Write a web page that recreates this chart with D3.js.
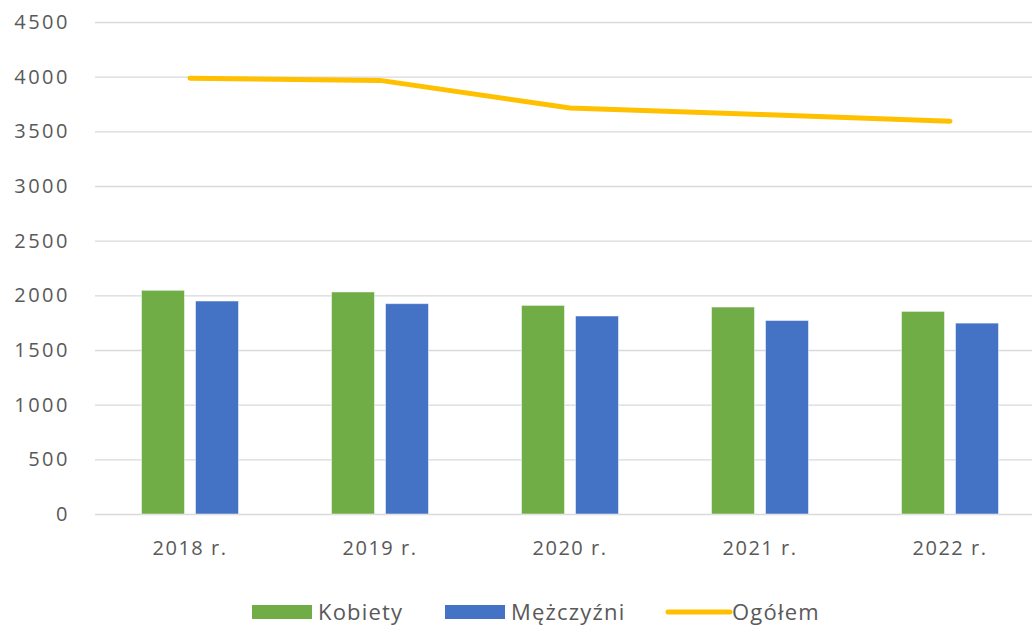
<!DOCTYPE html>
<html>
<head>
<meta charset="utf-8">
<script src="https://cdn.jsdelivr.net/npm/d3@7"></script>
<style>
  html, body { margin: 0; padding: 0; background: #fff; }
  svg text { font-family: 'Open Sans', 'Noto Sans', sans-serif; fill: #595959; }
</style>
</head>
<body>
<div id="chart"></div>
<script>
const years = ['2018 r.', '2019 r.', '2020 r.', '2021 r.', '2022 r.'];
const kobiety = [2046, 2031, 1908, 1893, 1853];
const mezczyzni = [1948, 1924, 1811, 1770, 1746];
const ogolem = [3985, 3966, 3714, 3655, 3592];
const yTicks = [0, 500, 1000, 1500, 2000, 2500, 3000, 3500, 4000, 4500];

const W = 1032, H = 626;
const m = { top: 22, right: -13, bottom: 112, left: 95 };

const svg = d3.select('#chart').append('svg').attr('width', W).attr('height', H);

const x = d3.scaleBand().domain(years).range([m.left, W - m.right]);
const y = d3.scaleLinear().domain([0, 4500]).range([H - m.bottom, m.top]);

// grid + y labels
const yAxis = d3.axisLeft(y).tickValues(yTicks).tickFormat(d3.format('d'))
  .tickSize(-(W - m.left)).tickPadding(25);
const gy = svg.append('g').attr('transform', `translate(${m.left},0)`).call(yAxis);
gy.select('.domain').remove();
gy.selectAll('.tick line').attr('stroke', '#d9d9d9').attr('stroke-width', 1.3);
gy.selectAll('.tick text').attr('font-size', 20).attr('fill', '#595959').style('letter-spacing', '2.5px');

// x labels
const xAxis = d3.axisBottom(x).tickSize(0).tickPadding(27);
const gx = svg.append('g').attr('transform', `translate(0,${y(0)})`).call(xAxis);
gx.select('.domain').remove();
gx.selectAll('.tick text').attr('font-size', 20).attr('fill', '#595959').style('letter-spacing', '1.5px');

// bars
const barW = 43, gap = 11;
const groups = [
  { name: 'Kobiety', values: kobiety, color: '#70AD47', dx: -barW - gap / 2 },
  { name: 'Mężczyźni', values: mezczyzni, color: '#4472C4', dx: gap / 2 },
];
groups.forEach(s => {
  svg.append('g').selectAll('rect').data(s.values).join('rect')
    .attr('x', (d, i) => x(years[i]) + x.bandwidth() / 2 + s.dx)
    .attr('y', d => y(d))
    .attr('width', barW)
    .attr('height', d => y(0) - y(d))
    .attr('fill', s.color)
    .attr('stroke', 'rgba(255,255,255,0.5)')
    .attr('stroke-width', 1);
});

// total line
const line = d3.line().x((d, i) => x(years[i]) + x.bandwidth() / 2).y(d => y(d));
svg.append('path').datum(ogolem).attr('d', line)
  .attr('fill', 'none').attr('stroke', '#FFC000').attr('stroke-width', 5)
  .attr('stroke-linecap', 'round').attr('stroke-linejoin', 'round');

// legend
const ly = 612;
const legend = svg.append('g');
const items = [
  { name: 'Kobiety', color: '#70AD47', type: 'rect', x: 252 },
  { name: 'Mężczyźni', color: '#4472C4', type: 'rect', x: 445 },
  { name: 'Ogółem', color: '#FFC000', type: 'line', x: 666 },
];
items.forEach(it => {
  if (it.type === 'rect') {
    legend.append('rect').attr('x', it.x).attr('y', ly - 7).attr('width', 60).attr('height', 14).attr('fill', it.color);
  } else {
    legend.append('line').attr('x1', it.x + 2).attr('x2', it.x + 64).attr('y1', ly).attr('y2', ly)
      .attr('stroke', it.color).attr('stroke-width', 5).attr('stroke-linecap', 'round');
  }
  legend.append('text').attr('x', it.x + 66).attr('y', ly).attr('dy', '0.35em')
    .attr('font-size', 22).attr('fill', '#595959').style('letter-spacing', '1.2px').text(it.name);
});
</script>
</body>
</html>
